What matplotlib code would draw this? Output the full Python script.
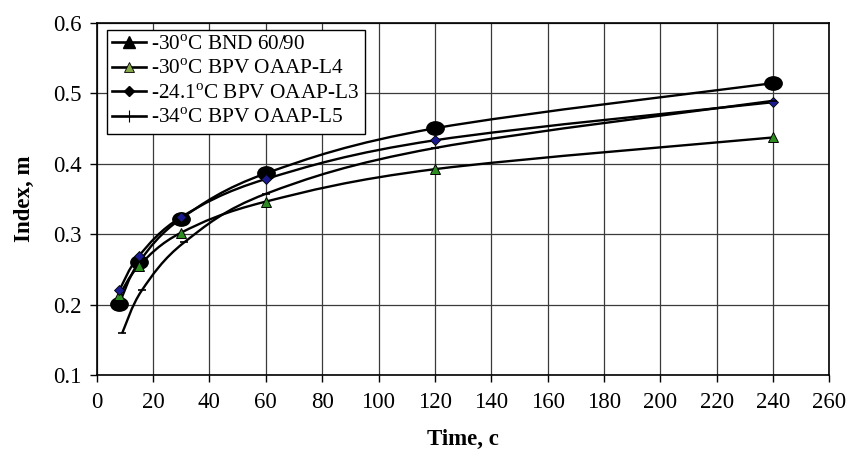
import numpy as np
import matplotlib
matplotlib.use("Agg")
import matplotlib.pyplot as plt
from matplotlib.path import Path
from matplotlib.patches import PathPatch
from matplotlib.lines import Line2D

plt.rcParams.update({
    "font.family": "serif",
    "font.serif": ["Liberation Serif", "DejaVu Serif"],
    "mathtext.fontset": "custom",
    "mathtext.rm": "Liberation Serif",
    "font.size": 16.5,
})

# data
time_std = [8, 15, 30, 60, 120, 240]
time_l5 = [9, 16, 31, 60, 120, 240]
bnd_60_90 = [0.201, 0.260, 0.322, 0.386, 0.450, 0.514]
bpv_l4 = [0.213, 0.255, 0.302, 0.346, 0.392, 0.437]
bpv_l3 = [0.220, 0.269, 0.324, 0.378, 0.433, 0.487]
bpv_l5 = [0.159, 0.220, 0.288, 0.357, 0.422, 0.489]

labels = [
    r"-30$^{\rm o}$C BND 60/90",
    r"-30$^{\rm o}$C BPV OAAP-L4",
    r"-24.1$^{\rm o}$C BPV OAAP-L3",
    r"-34$^{\rm o}$C BPV OAAP-L5",
]


def smooth_path(x, y):
    """Excel-like smoothed line: Catmull-Rom segments as cubic Beziers."""
    p = np.column_stack([x, y]).astype(float)
    pts = np.vstack([p[0], p, p[-1]])
    verts = [p[0]]
    codes = [Path.MOVETO]
    for i in range(1, len(pts) - 2):
        p0, p1, p2, p3 = pts[i - 1], pts[i], pts[i + 1], pts[i + 2]
        c1 = p1 + (p2 - p0) / 6.0
        c2 = p2 - (p3 - p1) / 6.0
        verts += [c1, c2, p2]
        codes += [Path.CURVE4] * 3
    return Path(verts, codes)


ellipse = Path.unit_circle().transformed(matplotlib.transforms.Affine2D().scale(1.3, 1.0))

fig = plt.figure(figsize=(8.52, 4.51), dpi=100)
ax = fig.add_axes([0.1135, 0.1685, 0.8600, 0.7815])

series = [
    (time_std, bnd_60_90, dict(marker=ellipse, ms=12.5, mfc="black", mec="black")),
    (time_std, bpv_l4, dict(marker="^", ms=7, mfc="#2e8b22", mec="black", mew=0.7)),
    (time_std, bpv_l3, dict(marker="D", ms=5, mfc="#1a1a8c", mec="black", mew=0.6)),
    (time_l5, bpv_l5, dict(marker="_", ms=6, mfc="black", mec="black", mew=1.2)),
]

for x, y, mk in series:
    ax.add_patch(PathPatch(smooth_path(x, y), fill=False, lw=1.7, ec="black", zorder=3))
    ax.plot(x, y, ls="none", zorder=4, **mk)

ax.set_xlim(0, 260)
ax.set_ylim(0.1, 0.6)
ax.set_xticks(np.arange(0, 261, 20))
ax.set_yticks(np.arange(0.1, 0.61, 0.1))
ax.yaxis.set_major_formatter(matplotlib.ticker.FormatStrFormatter("%.1f"))
ax.grid(True, color="#3a3a3a", lw=0.9)
ax.set_axisbelow(True)
ax.tick_params(direction="out", length=5, width=1)
ax.tick_params(axis="x", pad=7)
ax.tick_params(axis="y", pad=6)
for s in ax.spines.values():
    s.set_linewidth(1.2)

ax.set_xlabel("Time, c", fontweight="bold", labelpad=12)
ax.set_ylabel("Index, m", fontweight="bold", labelpad=13)

handles = [
    Line2D([], [], color="black", lw=1.9, marker="^", ms=9, mfc="black", mec="black"),
    Line2D([], [], color="black", lw=1.9, marker="^", ms=7, mfc="#86a64a", mec="black", mew=0.6),
    Line2D([], [], color="black", lw=1.9, marker="D", ms=5, mfc="black", mec="black"),
    Line2D([], [], color="black", lw=1.9, marker="+", ms=9, mfc="black", mec="black", mew=0.8),
]
leg = ax.legend(handles, labels, loc="upper left", bbox_to_anchor=(0.0135, 0.98),
                fontsize=15.3, frameon=True, fancybox=False, framealpha=1,
                edgecolor="black", borderpad=0.25, labelspacing=0.22,
                handlelength=1.6, handletextpad=0.25, borderaxespad=0.0)
leg.get_frame().set_linewidth(1.0)

fig.savefig("out.png", dpi=100)
